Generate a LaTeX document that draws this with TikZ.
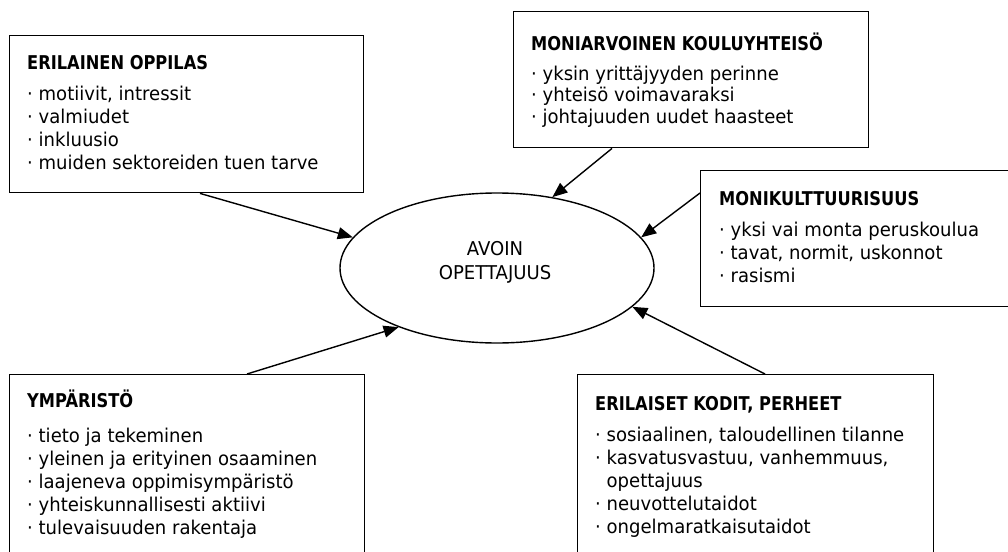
\documentclass[tikz,border=0pt]{standalone}
\usepackage{fontspec}
\setmainfont{DejaVu Sans}[UprightFeatures={FakeStretch=0.95},BoldFeatures={FakeStretch=0.855}]
\usetikzlibrary{shapes.geometric,arrows.meta,calc}

% bullet and the matching indent for a wrapped item
\newcommand\itm{·\ }
\newcommand\cont{\hphantom{·\ }}

\begin{document}
\begin{tikzpicture}[x=1pt,y=-1pt,
  frame/.style={draw,line width=1.4pt,inner sep=0pt,anchor=north west},
  body/.style={anchor=base west,inner sep=0pt,font=\fontsize{19}{23}\selectfont},
  link/.style={line width=1.4pt,-{Triangle[length=15pt,width=12pt]}}]

\useasboundingbox (0,0) rectangle (1008,551);

% central ellipse
\node[ellipse,draw,line width=1.4pt,minimum width=314pt,minimum height=150pt,inner sep=0pt] (ell) at (497,268) {};
\node[anchor=base,inner sep=0pt,font=\fontsize{19}{24.3}\selectfont] (core) at (495,255)
  {\begin{tabular}[t]{@{}c@{}}AVOIN\\OPETTAJUUS\end{tabular}};

% surrounding boxes
\node[frame,minimum width=354pt,minimum height=157pt] (b1) at (9,35) {};
\node[frame,minimum width=355pt,minimum height=136pt] (b2) at (513,11) {};
\node[frame,minimum width=330pt,minimum height=136pt] (b3) at (700,170) {};
\node[frame,minimum width=355pt,minimum height=190pt] (b4) at (9,374) {};
\node[frame,minimum width=356pt,minimum height=190pt] (b5) at (577,374) {};

% box texts
\node[body] (t1) at (27,69) {\begin{tabular}[t]{@{}l@{}}
  \bfseries ERILAINEN OPPILAS\\[8pt]
  \itm motiivit, intressit\\
  \itm valmiudet\\
  \itm inkluusio\\
  \itm muiden sektoreiden tuen tarve\end{tabular}};

\node[body,font=\fontsize{19}{21.7}\selectfont] (t2) at (531,50) {\begin{tabular}[t]{@{}l@{}}
  \bfseries MONIARVOINEN KOULUYHTEISÖ\\[8.3pt]
  \itm yksin yrittäjyyden perinne\\
  \itm yhteisö voimavaraksi\\
  \itm johtajuuden uudet haasteet\end{tabular}};

\node[body] (t3) at (719,205) {\begin{tabular}[t]{@{}l@{}}
  \bfseries MONIKULTTUURISUUS\\[8pt]
  \itm yksi vai monta peruskoulua\\
  \itm tavat, normit, uskonnot\\
  \itm rasismi\end{tabular}};

\node[body] (t4) at (27,407) {\begin{tabular}[t]{@{}l@{}}
  \bfseries YMPÄRISTÖ\\[12pt]
  \itm tieto ja tekeminen\\
  \itm yleinen ja erityinen osaaminen\\
  \itm laajeneva oppimisympäristö\\
  \itm yhteiskunnallisesti aktiivi\\
  \itm tulevaisuuden rakentaja\end{tabular}};

\node[body] (t5) at (595,410) {\begin{tabular}[t]{@{}l@{}}
  \bfseries ERILAISET KODIT, PERHEET\\[8pt]
  \itm sosiaalinen, taloudellinen tilanne\\
  \itm kasvatusvastuu, vanhemmuus,\\
  \cont opettajuus\\
  \itm neuvottelutaidot\\
  \itm ongelmaratkaisutaidot\end{tabular}};

% arrows into the ellipse
\draw[link] ($(b1.south west)+(191,0)$) -- (ell.168);
\draw[link] ($(b2.south west)+(99,0)$) -- (ell.52);
\draw[link] ($(b3.north west)+(0,23)$) -- (ell.12);
\draw[link] ($(b4.north west)+(238,0)$) -- (ell.211);
\draw[link] ($(b5.north west)+(188,0)$) -- (ell.344);

\end{tikzpicture}
\end{document}
